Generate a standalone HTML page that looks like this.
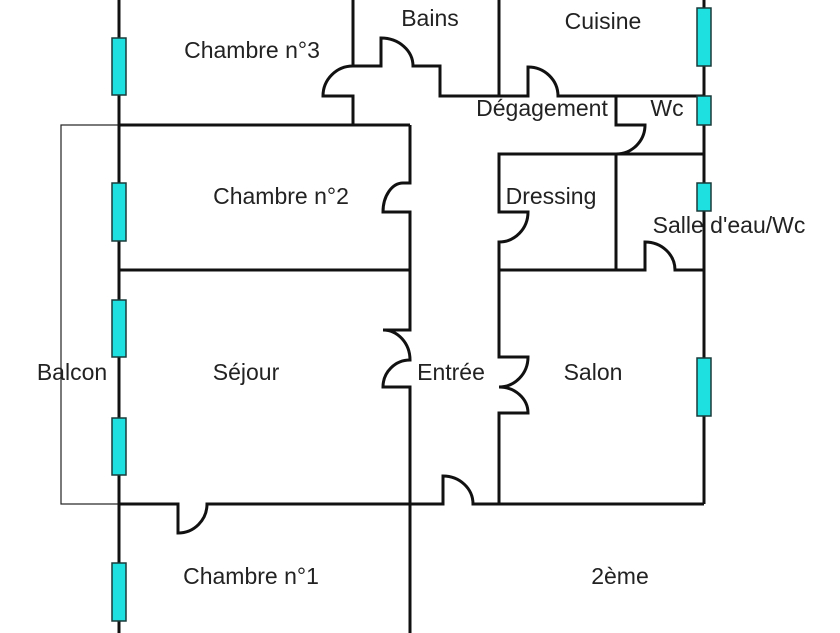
<!DOCTYPE html>
<html><head><meta charset="utf-8"><style>
html,body{margin:0;padding:0;background:#fff;}
svg{display:block}
text{font-family:"Liberation Sans",sans-serif;font-size:23px;fill:#222;text-anchor:middle;dominant-baseline:middle}
</style></head><body>
<svg width="840" height="633" viewBox="0 0 840 633" xmlns="http://www.w3.org/2000/svg">
<rect x="61" y="125" width="58" height="379" fill="none" stroke="#222" stroke-width="1.2"/>
<g fill="none" stroke="#111" stroke-width="3" stroke-linejoin="miter">
<line x1="119" y1="0" x2="119" y2="633"/>
<line x1="704" y1="0" x2="704" y2="504"/>
<line x1="119" y1="125" x2="410" y2="125"/>
<line x1="119" y1="270" x2="410" y2="270"/>
<path d="M353,0 V66 A30,30 0 0 0 323,96 H353 V125"/>
<path d="M353,66 H381 V38 A32,28 0 0 1 413,66 H440 V96 H528 V67 A30,29 0 0 1 558,96 H704"/>
<line x1="499" y1="0" x2="499" y2="96"/>
<path d="M616,96 V125 H645 A29,29 0 0 1 616,154"/>
<line x1="616" y1="154" x2="704" y2="154"/>
<path d="M616,154 H499 V212 H528 A29,30 0 0 1 499,242 V357 H528 A29,30 0 0 1 499,387 A29,26 0 0 1 528,413 H499 V504"/>
<line x1="616" y1="154" x2="616" y2="270"/>
<path d="M499,270 H645 V242 A30,28 0 0 1 675,270 H704"/>
<path d="M410,125 V183 H403 A20,29 0 0 0 383,212 H410 V330 H383 A27,30 0 0 1 410,360 A27,27 0 0 0 383,387 H410 V633"/>
<path d="M119,504 H178 V533 A29,29 0 0 0 207,504 H443 V476 A30,28 0 0 1 473,504 H704"/>
</g>
<g fill="#1ee0e0" stroke="#1a3a3a" stroke-width="1.5">
<rect x="112" y="38" width="14" height="57"/>
<rect x="112" y="183" width="14" height="58"/>
<rect x="112" y="300" width="14" height="57"/>
<rect x="112" y="418" width="14" height="57"/>
<rect x="112" y="563" width="14" height="58"/>
<rect x="697" y="8" width="14" height="58"/>
<rect x="697" y="96" width="14" height="29"/>
<rect x="697" y="183" width="14" height="28"/>
<rect x="697" y="358" width="14" height="58"/>
</g>
<text x="252" y="52">Chambre n°3</text>
<text x="430" y="20">Bains</text>
<text x="603" y="23">Cuisine</text>
<text x="542" y="110">Dégagement</text>
<text x="667" y="110">Wc</text>
<text x="281" y="198">Chambre n°2</text>
<text x="551" y="198">Dressing</text>
<text x="729" y="227">Salle d'eau/Wc</text>
<text x="72" y="374">Balcon</text>
<text x="246" y="374">Séjour</text>
<text x="451" y="374">Entrée</text>
<text x="593" y="374">Salon</text>
<text x="251" y="578">Chambre n°1</text>
<text x="620" y="578">2ème</text>
</svg>
</body></html>
